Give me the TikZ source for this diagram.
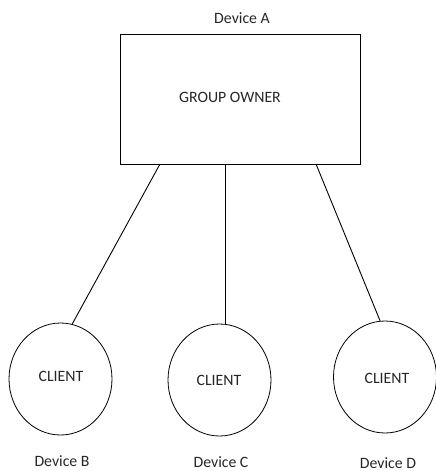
\documentclass[tikz,border=0pt]{standalone}
\usepackage{fontspec}
\setmainfont{Carlito}
\usetikzlibrary{shapes.geometric}
\begin{document}
\begin{tikzpicture}[x=1pt,y=-1pt,
  every node/.style={font=\fontsize{15.8}{18}\selectfont, text=black!85},
  ownerbox/.style={draw, line width=1pt, minimum width=240pt, minimum height=130pt, inner sep=0pt},
  clientnode/.style={draw, ellipse, line width=0.8pt, minimum width=103pt, minimum height=112pt, inner sep=0pt},
  link/.style={line width=0.9pt}]
\useasboundingbox (0,0) rectangle (436,471);
\node[ownerbox] (go) at (240,99) {};
\node (gotext) at (230,97) {GROUP OWNER};
\node (la) at (242,18) {Device A};
\node[clientnode] (cB) at (60.5,379) {};
\node[clientnode] (cC) at (219.5,380) {};
\node[clientnode] (cD) at (385,377) {};
\node (tB) at (61,376) {CLIENT};
\node (tC) at (219,380) {CLIENT};
\node (tD) at (387,378) {CLIENT};
\node (lb) at (62,461) {Device B};
\node (lc) at (221,462) {Device C};
\node (ld) at (388,463) {Device D};
\coordinate (p1) at (160,164);
\coordinate (p2) at (225.5,164);
\coordinate (p3) at (316,164);
\draw[link] (p1) -- (cB.78);
\draw[link] (p2) -- (cC.north -| p2);
\draw[link] (p3) -- (cD.95);
\end{tikzpicture}
\end{document}
